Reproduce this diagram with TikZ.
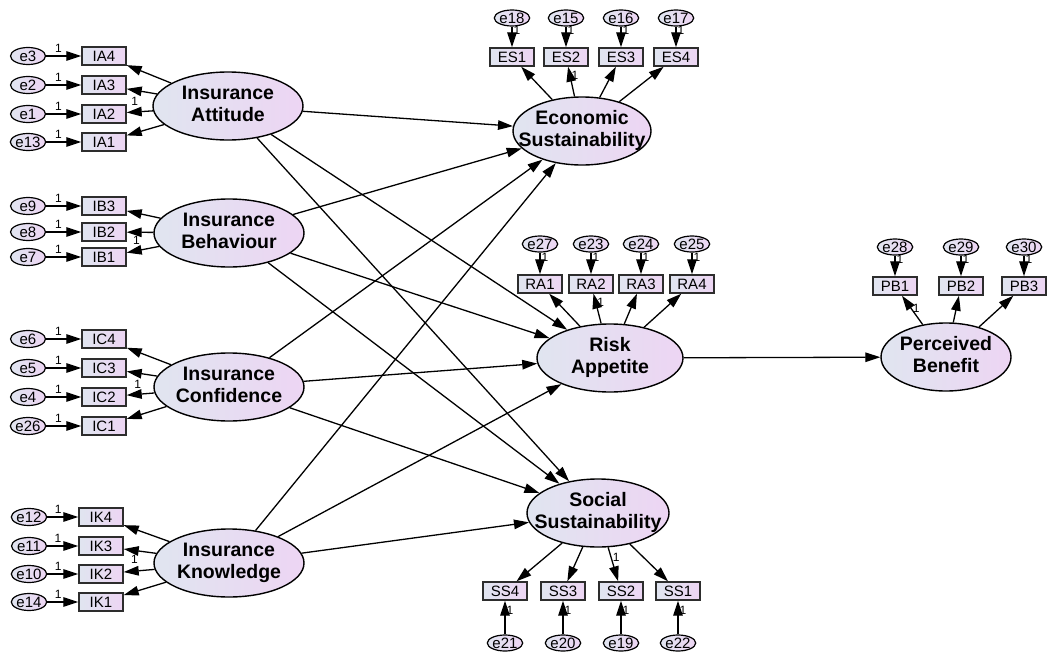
\documentclass[tikz,border=0pt]{standalone}
\usepackage{fontspec}
\setmainfont{Liberation Sans}
\usetikzlibrary{shapes.geometric,arrows.meta}
\definecolor{fillL}{RGB}{224,229,240}
\definecolor{fillR}{RGB}{237,213,243}
\definecolor{edgeC}{RGB}{45,45,45}
% two centred lines in a box of zero width, so the ellipse keeps its set size
\newcommand{\twoline}[2]{\makebox[0pt]{\begin{tabular}{@{}c@{}}#1\\#2\end{tabular}}}
\tikzset{
  lat/.style={ellipse, draw=black, line width=1.4pt, left color=fillL, right color=fillR,
    inner sep=0pt, minimum width=150pt, minimum height=68pt,
    font=\fontsize{19.5}{22}\selectfont\bfseries},
  obs/.style={rectangle, draw=edgeC, line width=1.4pt, left color=fillL, right color=fillR,
    inner sep=0pt, minimum width=44pt, minimum height=18pt,
    font=\fontsize{15}{16}\selectfont},
  err/.style={ellipse, draw=black, line width=1.2pt, left color=fillL, right color=fillR,
    inner sep=0pt, minimum width=35pt, minimum height=17pt,
    font=\fontsize{15}{16}\selectfont},
  arr/.style={-{Triangle[length=15pt,width=9.5pt]}, line width=1.3pt},
  one/.style={font=\fontsize{12}{12}\selectfont, inner sep=1pt}
}
\begin{document}
\begin{tikzpicture}[x=1pt,y=-1pt]
\useasboundingbox (0,0) rectangle (1047,656);

% ---------- latent variables ----------
\node[lat] (IA) at (228,106) {\twoline{Insurance}{Attitude}};
\node[lat] (IB) at (229,233) {\twoline{Insurance}{Behaviour}};
\node[lat] (IC) at (229,387) {\twoline{Insurance}{Confidence}};
\node[lat] (IK) at (229,563) {\twoline{Insurance}{Knowledge}};
\node[lat, minimum width=138pt] (ES) at (582,131) {\twoline{Economic}{Sustainability}};
\node[lat, minimum width=146pt] (RA) at (610,358) {\twoline{Risk}{Appetite}};
\node[lat, minimum width=142pt] (SS) at (598,513) {\twoline{Social}{Sustainability}};
\node[lat, minimum width=130pt] (PB) at (946,357) {\twoline{Perceived}{Benefit}};

% ---------- left-hand indicator blocks ----------
\foreach \ind/\er/\y in {IA4/e3/56, IA3/e2/85, IA2/e1/114, IA1/e13/142,
                         IB3/e9/206, IB2/e8/232, IB1/e7/257,
                         IC4/e6/339, IC3/e5/368, IC2/e4/397, IC1/e26/426}{
  \node[obs] (\ind) at (104,\y) {\ind};
  \node[err] (\er) at (28,\y) {\er};
  \draw[arr] (\er) -- node[one, above=2pt, pos=0.35] {1} (\ind);
}
\foreach \ind/\er/\y in {IK4/e12/517, IK3/e11/546, IK2/e10/574, IK1/e14/602}{
  \node[obs] (\ind) at (101,\y) {\ind};
  \node[err] (\er) at (29,\y) {\er};
  \draw[arr] (\er) -- node[one, above=2pt, pos=0.35] {1} (\ind);
}

% ---------- upper indicator blocks ----------
\foreach \ind/\er/\x in {ES1/e18/512, ES2/e15/566, ES3/e16/621, ES4/e17/676}{
  \node[obs] (\ind) at (\x,57) {\ind};
  \node[err, minimum height=16pt] (\er) at (\x,18) {\er};
  \draw[arr] (\er) -- node[one, right, pos=0.2] {1} (\ind);
}
\foreach \ind/\er/\x in {RA1/e27/540, RA2/e23/591, RA3/e24/641, RA4/e25/692}{
  \node[obs] (\ind) at (\x,284) {\ind};
  \node[err, minimum height=16pt] (\er) at (\x,244) {\er};
  \draw[arr] (\er) -- node[one, right, pos=0.2] {1} (\ind);
}
\foreach \ind/\er/\x in {PB1/e28/895, PB2/e29/961, PB3/e30/1024}{
  \node[obs] (\ind) at (\x,286) {\ind};
  \node[err, minimum height=16pt] (\er) at (\x,247) {\er};
  \draw[arr] (\er) -- node[one, right, pos=0.2] {1} (\ind);
}

% ---------- lower indicator block ----------
\foreach \ind/\er/\x in {SS4/e21/505, SS3/e20/563, SS2/e19/621, SS1/e22/678}{
  \node[obs] (\ind) at (\x,591) {\ind};
  \node[err, minimum height=16pt] (\er) at (\x,643) {\er};
  \draw[arr] (\er) -- node[one, right, pos=0.7] {1} (\ind);
}

% ---------- loadings ----------
\draw[arr] (IA) -- (IA4);
\draw[arr] (IA) -- (IA3);
\draw[arr] (IA) -- node[one, above=5pt, pos=0.7] {1} (IA2);
\draw[arr] (IA) -- (IA1);
\draw[arr] (IB) -- (IB3);
\draw[arr] (IB) -- (IB2);
\draw[arr] (IB) -- node[one, above=5pt, pos=0.7] {1} (IB1);
\draw[arr] (IC) -- (IC4);
\draw[arr] (IC) -- (IC3);
\draw[arr] (IC) -- node[one, above=4pt, pos=0.6] {1} (IC2);
\draw[arr] (IC) -- (IC1);
\draw[arr] (IK) -- (IK4);
\draw[arr] (IK) -- (IK3);
\draw[arr] (IK) -- node[one, above=6pt, pos=0.65] {1} (IK2);
\draw[arr] (IK) -- (IK1);

\draw[arr] (ES) -- (ES1);
\draw[arr] (ES) -- node[one, right, pos=0.7] {1} (ES2);
\draw[arr] (ES) -- (ES3);
\draw[arr] (ES) -- (ES4);
\draw[arr] (RA) -- (RA1);
\draw[arr] (RA) -- node[one, right, pos=0.7] {1} (RA2);
\draw[arr] (RA) -- (RA3);
\draw[arr] (RA) -- (RA4);
\draw[arr] (PB) -- node[one, right, pos=0.55] {1} (PB1);
\draw[arr] (PB) -- (PB2);
\draw[arr] (PB) -- (PB3);
\draw[arr] (SS) -- (SS4);
\draw[arr] (SS) -- (SS3);
\draw[arr] (SS) -- node[one, right, pos=0.3] {1} (SS2);
\draw[arr] (SS) -- (SS1);

% ---------- structural paths ----------
\foreach \src in {IA, IB, IC, IK}{
  \draw[arr] (\src) -- (ES);
  \draw[arr] (\src) -- (RA);
  \draw[arr] (\src) -- (SS);
}
\draw[arr] (RA) -- (PB);
\end{tikzpicture}
\end{document}
